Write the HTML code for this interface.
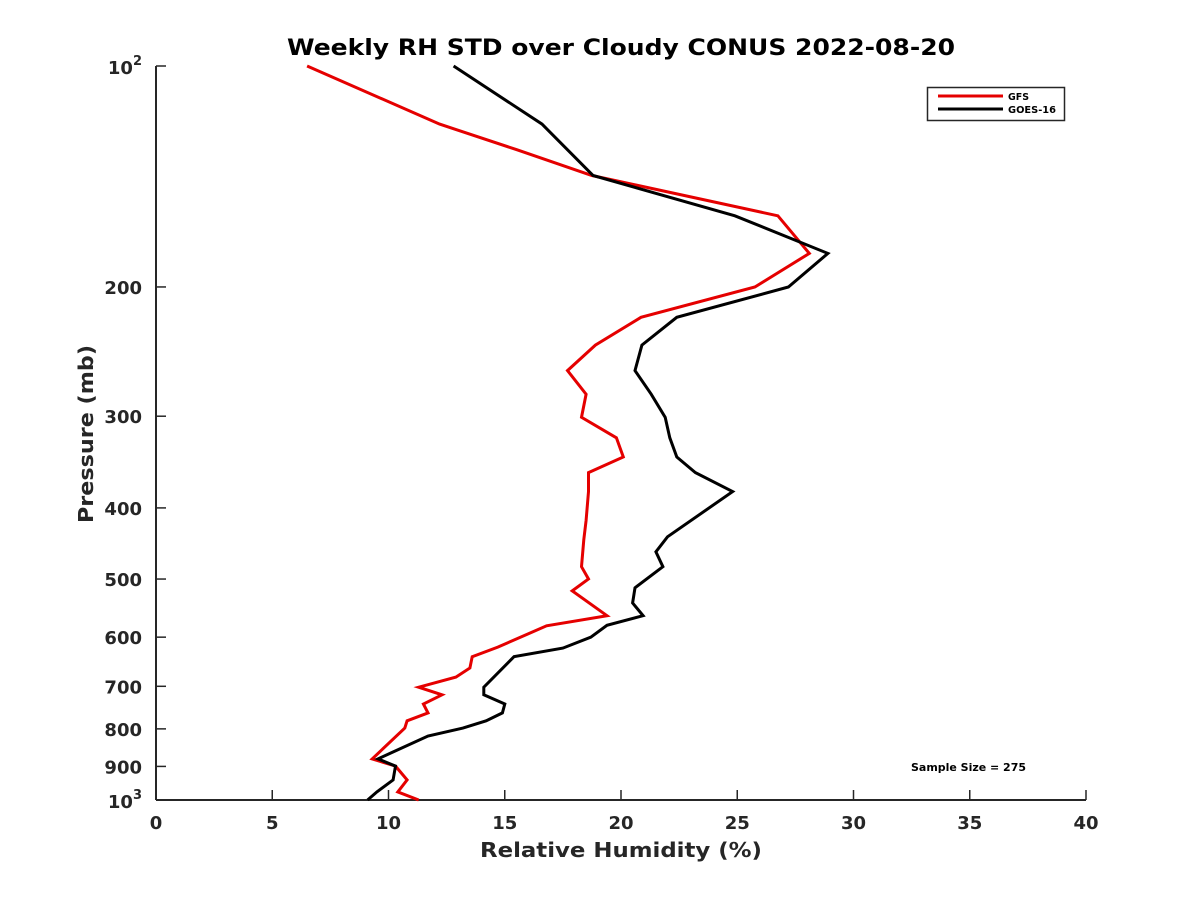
<!DOCTYPE html>
<html><head><meta charset="utf-8"><style>
html,body{margin:0;padding:0;background:#fff;}
text{font-family:"DejaVu Sans","Liberation Sans",sans-serif;font-weight:bold;fill:#262626;}
</style></head><body>
<svg id="chart" width="1200" height="900" viewBox="0 0 1200 900" xmlns="http://www.w3.org/2000/svg">
<rect width="1200" height="900" fill="#fff"/>
<text x="287" y="55" font-size="22" textLength="668" lengthAdjust="spacingAndGlyphs" style="fill:#000">Weekly RH STD over Cloudy CONUS 2022-08-20</text>
<g id="axes"></g>
<g id="series"></g>
<text x="480" y="857" font-size="20" textLength="282" lengthAdjust="spacingAndGlyphs">Relative Humidity (%)</text>
<text transform="translate(93,523) rotate(-90)" font-size="20" textLength="178" lengthAdjust="spacingAndGlyphs">Pressure (mb)</text>
<text x="911" y="771" font-size="11" textLength="115" lengthAdjust="spacingAndGlyphs" style="fill:#000">Sample Size = 275</text>
<g>
<rect x="927.5" y="87.5" width="137" height="33" fill="#fff" stroke="#262626" stroke-width="1.5"/>
<line x1="938" y1="96" x2="1003" y2="96" stroke="#e50000" stroke-width="3"/>
<text x="1008" y="100" font-size="9.5" textLength="21" lengthAdjust="spacingAndGlyphs" style="fill:#000">GFS</text>
<line x1="938" y1="109" x2="1003" y2="109" stroke="#000" stroke-width="3"/>
<text x="1008" y="113" font-size="9.5" textLength="48" lengthAdjust="spacingAndGlyphs" style="fill:#000">GOES-16</text>
</g>
</svg>
<script>
const gfsP=[100,120,130,141,160,180,200,220,240,260,280,301,321,341,358,380,416,442,481,500,519,561,579,619,638,661,680,702,719,740,761,780,798,879,899,939,975,1000];
const gfsRH=[6.5,12.2,15.5,18.75,26.75,28.1,25.76,20.86,18.9,17.7,18.5,18.3,19.8,20.1,18.6,18.6,18.5,18.4,18.3,18.6,17.9,19.4,16.8,14.7,13.6,13.5,12.9,11.3,12.3,11.5,11.7,10.8,10.7,9.3,10.3,10.8,10.4,11.3];
const goesP=[100,120,141,160,180,200,220,240,260,280,301,321,341,358,380,438,459,481,514,539,561,578,600,621,638,702,719,740,761,780,798,818,863,879,899,939,975,1000];
const goesRH=[12.8,16.6,18.8,24.9,28.9,27.2,22.4,20.9,20.6,21.3,21.9,22.1,22.4,23.2,24.8,22.0,21.5,21.8,20.6,20.5,20.95,19.4,18.7,17.5,15.4,14.1,14.1,15.0,14.9,14.2,13.2,11.7,10.1,9.55,10.3,10.2,9.5,9.1];
const xTicks=[0,5,10,15,20,25,30,35,40];
const yTicks=[100,200,300,400,500,600,700,800,900,1000];
const yTickLabels=["","200","300","400","500","600","700","800","900",""];

const NS="http://www.w3.org/2000/svg";
const X0=156,X1=1086,Y0=66,Y1=800,xmin=0,xmax=40;
function xs(v){return X0+(v-xmin)/(xmax-xmin)*(X1-X0);}
function ys(p){return Y0+(Math.log10(p)-2)*(Y1-Y0);}
function mk(tag,attrs,parent){const e=document.createElementNS(NS,tag);for(const k in attrs)e.setAttribute(k,attrs[k]);parent.appendChild(e);return e;}
const axes=document.getElementById('axes');
let e;
e=mk('line',{x1:X0,y1:Y0,x2:X0,y2:Y1,stroke:'#262626','stroke-width':2},axes);


e=mk('line',{x1:X0,y1:Y1,x2:X1,y2:Y1,stroke:'#262626','stroke-width':2},axes);


xTicks.forEach(v=>{
  const t=mk('line',{x1:xs(v),y1:Y1,x2:xs(v),y2:Y1-10,stroke:'#262626','stroke-width':1.5},axes);
  
  
  const l=mk('text',{x:xs(v),y:Y1+29,'text-anchor':'middle','font-size':18},axes);
  l.textContent=v;
  
  
});
yTicks.forEach((p,i)=>{
  const t=mk('line',{x1:X0,y1:ys(p),x2:X0+10,y2:ys(p),stroke:'#262626','stroke-width':1.5},axes);
  
  
  if(yTickLabels[i]){
    const l=mk('text',{x:X0-14,y:ys(p)+7,'text-anchor':'end','font-size':18},axes);
    l.textContent=yTickLabels[i];
    
    
  }
});
[[100,'2'],[1000,'3']].forEach(([p,s])=>{
  const l=mk('text',{x:X0-14,y:ys(p)+8,'text-anchor':'end','font-size':18},axes);
  l.innerHTML='10<tspan dy="-9" font-size="13">'+s+'</tspan>';
  
  
});
const ser=document.getElementById('series');
function line(P,R,color,name){
  const d=P.map((p,i)=>(i?'L':'M')+xs(R[i]).toFixed(1)+','+ys(p).toFixed(1)).join('');
  const el=mk('path',{d:d,fill:'none',stroke:color,'stroke-width':3,'stroke-linejoin':'miter'},ser);
  
  
}
line(gfsP,gfsRH,'#e50000','gfs-line');
line(goesP,goesRH,'#000','goes16-line');
</script>
</body></html>
